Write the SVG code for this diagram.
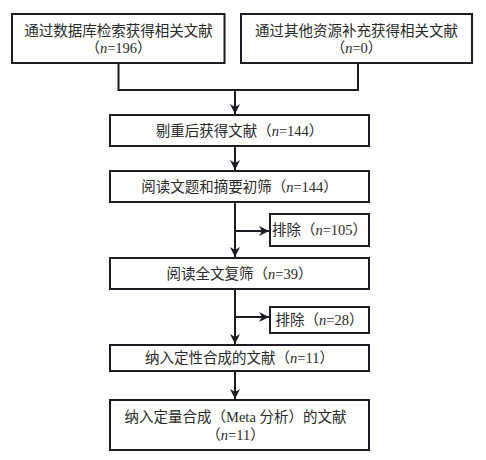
<svg xmlns="http://www.w3.org/2000/svg" width="486" height="460" viewBox="0 0 486 460">
<defs>
<marker id="arr" viewBox="0 0 10 10" refX="10" refY="5" markerWidth="10" markerHeight="10" markerUnits="userSpaceOnUse" orient="auto">
<path d="M0,0 L10,5 L0,10 L3,5 Z" fill="#1f1a24"/>
</marker>
<style>
rect{fill:#fff;stroke:#1f1a24;stroke-width:2}
text{font-family:"Liberation Serif","Noto Sans CJK SC",serif;font-size:14.5px;fill:#2a2a2a;text-anchor:middle}
.c{fill:none;stroke:#1f1a24;stroke-width:2}
</style>
</defs>
<rect x="0" y="0" width="486" height="460" style="fill:#fff;stroke:none"/>
<g id="connectors">
<path class="c" d="M118.5,63 V90 H358 V63"/>
<path class="c" d="M235,90 V114" marker-end="url(#arr)"/>
<path class="c" d="M235,146 V170" marker-end="url(#arr)"/>
<path class="c" d="M235,202 V257" marker-end="url(#arr)"/>
<path class="c" d="M235,231 H269" marker-end="url(#arr)"/>
<path class="c" d="M235,289 V344" marker-end="url(#arr)"/>
<path class="c" d="M235,317 H269" marker-end="url(#arr)"/>
<path class="c" d="M235,371 V399" marker-end="url(#arr)"/>
</g>
<g id="n1"><rect x="12" y="14" width="212.5" height="49"/><text x="118.5" y="36">通过数据库检索获得相关文献</text><text x="118.5" y="53">（<tspan font-style="italic">n</tspan>=196）</text></g>
<g id="n2"><rect x="241" y="14" width="231" height="49"/><text x="356.5" y="36">通过其他资源补充获得相关文献</text><text x="356.5" y="53">（<tspan font-style="italic">n</tspan>=0）</text></g>
<g id="n3"><rect x="110" y="115" width="259" height="31"/><text x="239.5" y="136">剔重后获得文献（<tspan font-style="italic">n</tspan>=144）</text></g>
<g id="n4"><rect x="110" y="171" width="259" height="31"/><text x="239.5" y="192">阅读文题和摘要初筛（<tspan font-style="italic">n</tspan>=144）</text></g>
<g id="n5"><rect x="270" y="214" width="99" height="32"/><text x="319.5" y="235">排除（<tspan font-style="italic">n</tspan>=105）</text></g>
<g id="n6"><rect x="110" y="258" width="259" height="31"/><text x="239.5" y="279">阅读全文复筛（<tspan font-style="italic">n</tspan>=39）</text></g>
<g id="n7"><rect x="270" y="307" width="99" height="26"/><text x="319.5" y="325">排除（<tspan font-style="italic">n</tspan>=28）</text></g>
<g id="n8"><rect x="110" y="345" width="259" height="26"/><text x="239.5" y="363">纳入定性合成的文献（<tspan font-style="italic">n</tspan>=11）</text></g>
<g id="n9"><rect x="110" y="400" width="259" height="50"/><text x="235.5" y="422">纳入定量合成（Meta 分析）的文献</text><text x="235.5" y="440">（<tspan font-style="italic">n</tspan>=11）</text></g>
</svg>
